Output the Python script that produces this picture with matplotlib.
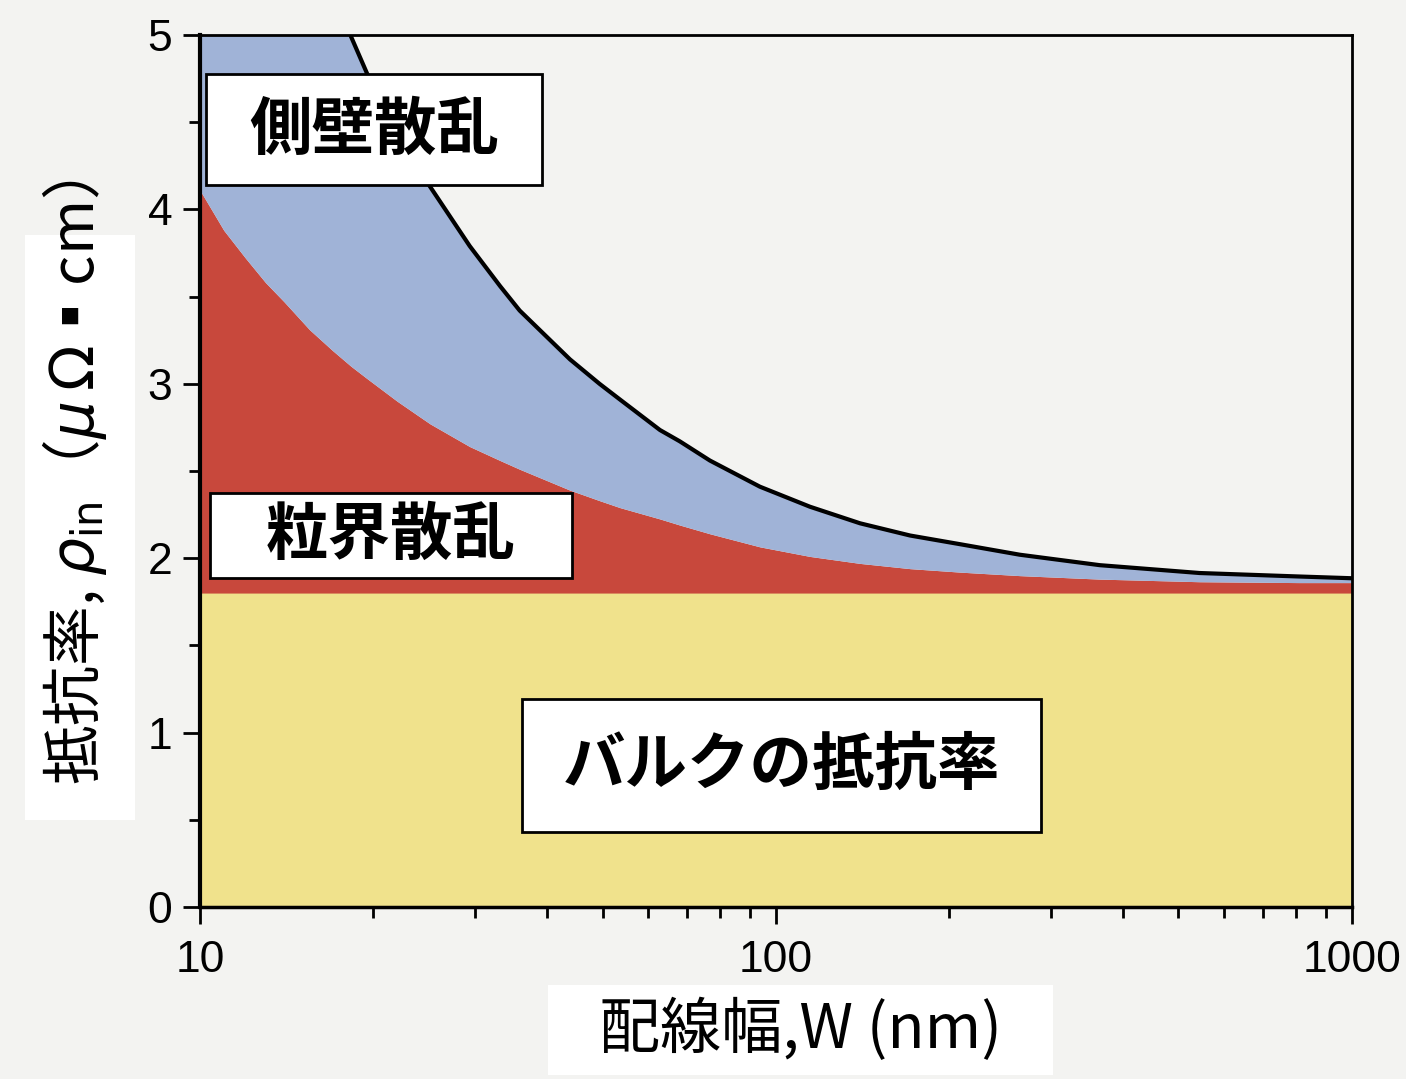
import numpy as np
import matplotlib.pyplot as plt
from matplotlib.patches import Rectangle
from matplotlib.ticker import FixedLocator, NullFormatter

plt.rcParams['font.family'] = ['Noto Sans CJK JP', 'DejaVu Sans']
plt.rcParams['mathtext.fontset'] = 'dejavusans'

# 配線幅 W (nm)
width_nm = [10, 11, 12, 13, 14, 15.5, 17, 18.3, 19.5, 22, 24.1, 25.1, 29.4, 33.2, 35.9,
            43.9, 49.4, 53.6, 62.9, 68.1, 76.8, 93.8, 114.6, 140, 171, 209, 265, 365,
            544, 810, 1000]
# バルクの抵抗率 (一定)
rho_bulk = 1.8
# バルク + 粒界散乱
rho_grain = [4.11, 3.88, 3.72, 3.58, 3.47, 3.31, 3.19, 3.10, 3.03, 2.90, 2.81, 2.77,
             2.64, 2.56, 2.51, 2.39, 2.33, 2.29, 2.225, 2.19, 2.14, 2.065, 2.01, 1.97,
             1.94, 1.92, 1.90, 1.88, 1.865, 1.86, 1.86]
# バルク + 粒界散乱 + 側壁散乱 (全体)
rho_total = [7.6, 7.1, 6.7, 6.35, 6.05, 5.65, 5.3, 4.99, 4.78, 4.45, 4.22, 4.13,
             3.79, 3.56, 3.42, 3.14, 3.00, 2.91, 2.735, 2.67, 2.56, 2.41, 2.295, 2.20,
             2.13, 2.08, 2.02, 1.96, 1.915, 1.895, 1.885]

x_ticks = [10, 100, 1000]
y_ticks = [0, 1, 2, 3, 4, 5]

bg = '#f3f3f1'
c_bulk = '#f0e28c'
c_grain = '#c8483c'
c_side = '#a0b3d7'

fig = plt.figure(figsize=(14.06, 10.79), dpi=100, facecolor=bg)
ax = fig.add_axes([0.1422, 0.1594, 0.8193, 0.8082], facecolor=bg)

W = np.array(width_nm)
ax.fill_between(W, 0, rho_bulk, color=c_bulk, lw=0)
ax.fill_between(W, rho_bulk, rho_grain, color=c_grain, lw=0)
ax.fill_between(W, rho_grain, rho_total, color=c_side, lw=0)
ax.plot(W, rho_total, color='black', lw=3, solid_joinstyle='round')

ax.set_xscale('log')
ax.set_xlim(10, 1000)
ax.set_ylim(0, 5)

ax.xaxis.set_major_locator(FixedLocator(x_ticks))
ax.set_xticklabels([str(t) for t in x_ticks])
minor_x = [m * d for d in (10, 100) for m in range(2, 10)]
ax.xaxis.set_minor_locator(FixedLocator(minor_x))
ax.xaxis.set_minor_formatter(NullFormatter())
ax.set_yticks(y_ticks)
ax.set_yticks(np.arange(0.5, 5, 1.0), minor=True)

ax.tick_params(axis='both', which='major', direction='out', length=12, width=2,
               labelsize=32, pad=8)
ax.tick_params(axis='both', which='minor', direction='out', length=8, width=2)
ax.tick_params(axis='x', which='major', pad=12)
for lab in ax.get_xticklabels() + ax.get_yticklabels():
    lab.set_family('Liberation Sans')

for side, lw in (('left', 3.0), ('bottom', 2.5), ('top', 2.0), ('right', 2.0)):
    ax.spines[side].set_linewidth(lw)
    ax.spines[side].set_color('black')

# 各領域のラベル
boxes = [
    ('側壁散乱', 0.0052, 0.828, 0.2917, 0.1273, 0.151, 0.891),
    ('粒界散乱', 0.0087, 0.3773, 0.3142, 0.0975, 0.1658, 0.426),
    ('バルクの抵抗率', 0.2795, 0.0860, 0.4505, 0.1525, 0.5048, 0.1623),
]
for text, x0, y0, w, h, tx, ty in boxes:
    ax.add_patch(Rectangle((x0, y0), w, h, transform=ax.transAxes, facecolor='white',
                           edgecolor='black', lw=2, zorder=5))
    ax.text(tx, ty, text, transform=ax.transAxes, ha='center', va='center',
            fontsize=45, fontweight='bold', zorder=6)

# 軸ラベル (白地の上に配置)
fig.patches.append(Rectangle((0.0178, 0.240), 0.0782, 0.542, transform=fig.transFigure,
                             facecolor='white', edgecolor='none', zorder=0))
fig.text(0.053, 0.553, '抵抗率, $\\rho_{\\mathrm{in}}$（$\\mu\\,\\Omega$▪cm）',
         rotation=90, ha='center', va='center', fontsize=43)

fig.patches.append(Rectangle((0.390, 0.004), 0.359, 0.083, transform=fig.transFigure,
                             facecolor='white', edgecolor='none', zorder=0))
fig.text(0.569, 0.0454, '配線幅,W (nm)', ha='center', va='center', fontsize=44)

fig.savefig('out.png', dpi=100, facecolor=bg)
